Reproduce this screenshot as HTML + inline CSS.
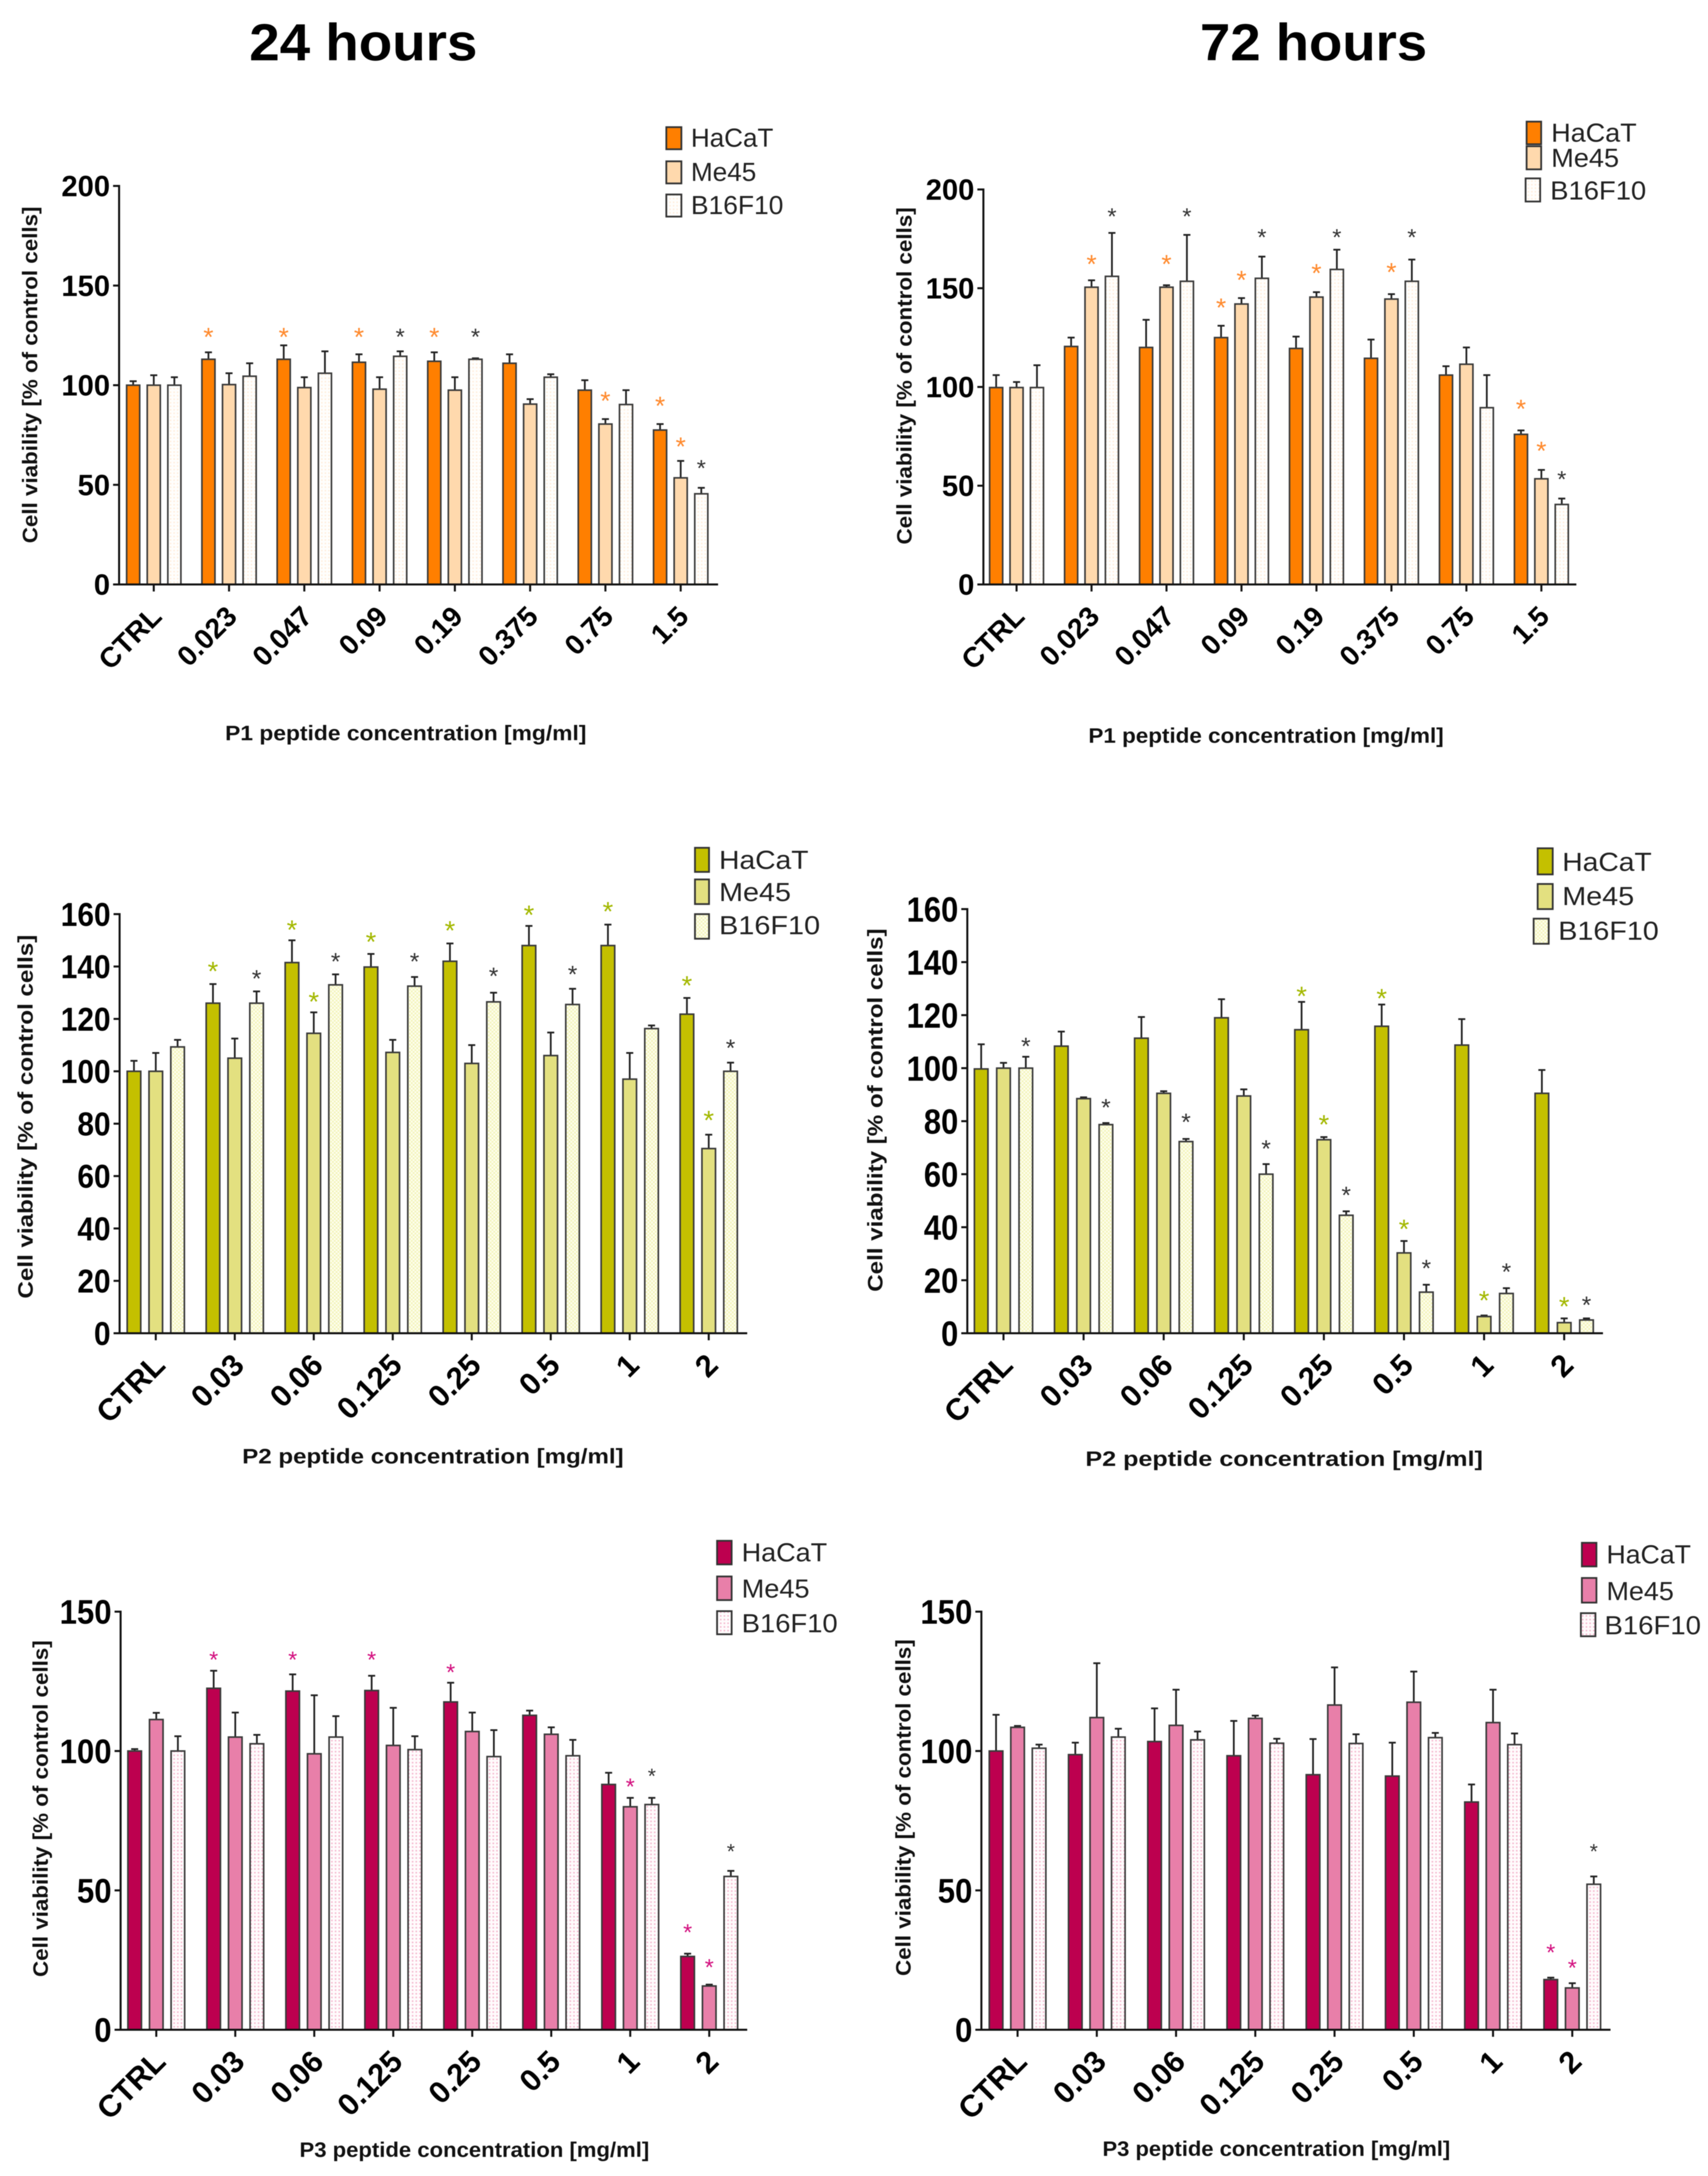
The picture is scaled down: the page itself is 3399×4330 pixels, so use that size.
<!DOCTYPE html>
<html lang="en">
<head>
<meta charset="utf-8">
<title>Cell viability of HaCaT, Me45 and B16F10 after peptide treatment</title>
<style>
  html, body { margin: 0; padding: 0; background: #fff; }
  svg { display: block; font-family: "Liberation Sans", sans-serif; filter: blur(0.7px); }
  .h { font-weight: 700; font-size: 104px; fill: #000; }
  .yt { font-weight: 700; font-size: 42px; fill: #111; }
  .xt { font-weight: 700; font-size: 42px; fill: #111; }
  .lg { font-size: 52px; fill: #222; }
  .sw { stroke: #333; stroke-width: 3.5; }
</style>
</head>
<body>
<svg id="figure" xmlns="http://www.w3.org/2000/svg" width="3399" height="4330" viewBox="0 0 3399 4330">
  <defs>
    <pattern id="dots-orange" patternUnits="userSpaceOnUse" width="7" height="7">
      <rect width="7" height="7" fill="#fffefc"/>
      <rect x="2" y="2" width="3" height="3" fill="#ffeedd"/>
    </pattern>
    <pattern id="dots-olive" patternUnits="userSpaceOnUse" width="7.3" height="7.3">
      <rect width="7.3" height="7.3" fill="#fefef2"/>
      <rect x="0" y="0" width="3.6" height="3.6" fill="#f3f4ba"/>
      <rect x="3.6" y="3.6" width="3.7" height="3.7" fill="#f3f4ba"/>
    </pattern>
    <pattern id="dots-pink" patternUnits="userSpaceOnUse" width="7.3" height="7.3">
      <rect width="7.3" height="7.3" fill="#fffbfc"/>
      <rect x="2" y="2" width="3" height="3" fill="#f4b6cd"/>
    </pattern>
  </defs>

  <rect width="3399" height="4330" fill="#fff"/>

  <text class="h" x="496" y="120" textLength="454" lengthAdjust="spacingAndGlyphs">24 hours</text>
  <text class="h" x="2388" y="120" textLength="452" lengthAdjust="spacingAndGlyphs">72 hours</text>

  <g>
    <text class="yt" transform="translate(74,746) rotate(-90)" text-anchor="middle" textLength="670" lengthAdjust="spacingAndGlyphs">Cell viability [% of control cells]</text>
    <text class="xt" x="448" y="1473" textLength="719" lengthAdjust="spacingAndGlyphs">P1 peptide concentration [mg/ml]</text>
    <g>
      <rect class="sw" x="1326" y="253" width="30" height="44" fill="#ff7f00"/>
      <text class="lg" x="1375" y="292" textLength="164" lengthAdjust="spacingAndGlyphs">HaCaT</text>
      <rect class="sw" x="1326" y="321" width="30" height="44" fill="#ffd9ad"/>
      <text class="lg" x="1375" y="360" textLength="130" lengthAdjust="spacingAndGlyphs">Me45</text>
      <rect class="sw" x="1326" y="387" width="30" height="44" fill="url(#dots-orange)"/>
      <text class="lg" x="1375" y="426" textLength="184" lengthAdjust="spacingAndGlyphs">B16F10</text>
    </g>
  </g>

  <g>
    <text class="yt" transform="translate(1814,748) rotate(-90)" text-anchor="middle" textLength="671" lengthAdjust="spacingAndGlyphs">Cell viability [% of control cells]</text>
    <text class="xt" x="2166" y="1478" textLength="707" lengthAdjust="spacingAndGlyphs">P1 peptide concentration [mg/ml]</text>
    <g>
      <rect class="sw" x="3038" y="242" width="29" height="45" fill="#ff7f00"/>
      <text class="lg" x="3087" y="282" textLength="170" lengthAdjust="spacingAndGlyphs">HaCaT</text>
      <rect class="sw" x="3038" y="291" width="29" height="46" fill="#ffd9ad"/>
      <text class="lg" x="3087" y="332" textLength="135" lengthAdjust="spacingAndGlyphs">Me45</text>
      <rect class="sw" x="3036" y="355" width="29" height="46" fill="url(#dots-orange)"/>
      <text class="lg" x="3085" y="397" textLength="191" lengthAdjust="spacingAndGlyphs">B16F10</text>
    </g>
  </g>

  <g>
    <text class="yt" transform="translate(65,2222) rotate(-90)" text-anchor="middle" textLength="724" lengthAdjust="spacingAndGlyphs">Cell viability [% of control cells]</text>
    <text class="xt" x="482" y="2912" textLength="759" lengthAdjust="spacingAndGlyphs">P2 peptide concentration [mg/ml]</text>
    <g>
      <rect class="sw" x="1383" y="1687" width="28" height="48" fill="#c4c000"/>
      <text class="lg" x="1431" y="1729" textLength="178" lengthAdjust="spacingAndGlyphs">HaCaT</text>
      <rect class="sw" x="1383" y="1750" width="28" height="49" fill="#e3e080"/>
      <text class="lg" x="1431" y="1793" textLength="143" lengthAdjust="spacingAndGlyphs">Me45</text>
      <rect class="sw" x="1383" y="1819" width="28" height="49" fill="url(#dots-olive)"/>
      <text class="lg" x="1431" y="1859" textLength="201" lengthAdjust="spacingAndGlyphs">B16F10</text>
    </g>
  </g>

  <g>
    <text class="yt" transform="translate(1756,2209) rotate(-90)" text-anchor="middle" textLength="723" lengthAdjust="spacingAndGlyphs">Cell viability [% of control cells]</text>
    <text class="xt" x="2160" y="2917" textLength="791" lengthAdjust="spacingAndGlyphs">P2 peptide concentration [mg/ml]</text>
    <g>
      <rect class="sw" x="3060" y="1688" width="30" height="52" fill="#c4c000"/>
      <text class="lg" x="3109" y="1733" textLength="178" lengthAdjust="spacingAndGlyphs">HaCaT</text>
      <rect class="sw" x="3060" y="1759" width="30" height="50" fill="#e3e080"/>
      <text class="lg" x="3109" y="1801" textLength="143" lengthAdjust="spacingAndGlyphs">Me45</text>
      <rect class="sw" x="3052" y="1828" width="30" height="50" fill="url(#dots-olive)"/>
      <text class="lg" x="3101" y="1870" textLength="200" lengthAdjust="spacingAndGlyphs">B16F10</text>
    </g>
  </g>

  <g>
    <text class="yt" transform="translate(95,3599) rotate(-90)" text-anchor="middle" textLength="670" lengthAdjust="spacingAndGlyphs">Cell viability [% of control cells]</text>
    <text class="xt" x="596" y="4292" textLength="696" lengthAdjust="spacingAndGlyphs">P3 peptide concentration [mg/ml]</text>
    <g>
      <rect class="sw" x="1427" y="3066" width="29" height="47" fill="#bd004f"/>
      <text class="lg" x="1476" y="3107" textLength="170" lengthAdjust="spacingAndGlyphs">HaCaT</text>
      <rect class="sw" x="1427" y="3137" width="29" height="47" fill="#e87fa9"/>
      <text class="lg" x="1476" y="3179" textLength="135" lengthAdjust="spacingAndGlyphs">Me45</text>
      <rect class="sw" x="1427" y="3206" width="29" height="46" fill="url(#dots-pink)"/>
      <text class="lg" x="1476" y="3248" textLength="191" lengthAdjust="spacingAndGlyphs">B16F10</text>
    </g>
  </g>

  <g>
    <text class="yt" transform="translate(1812,3597) rotate(-90)" text-anchor="middle" textLength="670" lengthAdjust="spacingAndGlyphs">Cell viability [% of control cells]</text>
    <text class="xt" x="2194" y="4290" textLength="692" lengthAdjust="spacingAndGlyphs">P3 peptide concentration [mg/ml]</text>
    <g>
      <rect class="sw" x="3148" y="3070" width="29" height="47" fill="#bd004f"/>
      <text class="lg" x="3197" y="3111" textLength="168" lengthAdjust="spacingAndGlyphs">HaCaT</text>
      <rect class="sw" x="3148" y="3140" width="29" height="49" fill="#e87fa9"/>
      <text class="lg" x="3197" y="3184" textLength="134" lengthAdjust="spacingAndGlyphs">Me45</text>
      <rect class="sw" x="3146" y="3210" width="29" height="46" fill="url(#dots-pink)"/>
      <text class="lg" x="3193" y="3252" textLength="192" lengthAdjust="spacingAndGlyphs">B16F10</text>
    </g>
  </g>

  <g id="plots"></g>
</svg>

<script>
/* ---------- categories and tick labels ---------- */
const categoriesP1 = ['CTRL', '0.023', '0.047', '0.09', '0.19', '0.375', '0.75', '1.5'];
const categoriesP2 = ['CTRL', '0.03', '0.06', '0.125', '0.25', '0.5', '1', '2'];
const categoriesP3 = ['CTRL', '0.03', '0.06', '0.125', '0.25', '0.5', '1', '2'];
const ticksP1 = [0, 50, 100, 150, 200];
const ticksP2 = [0, 20, 40, 60, 80, 100, 120, 140, 160];
const ticksP3 = [0, 50, 100, 150];
const seriesNames = ['hacat', 'me45', 'b16f10'];

/* ---------- P1, 24 h ---------- */
const p1h24Hacat      = [100, 113, 113, 111.5, 112, 111, 97.5, 77.5];
const p1h24HacatUpper = [102, 116.5, 120, 115.5, 116.5, 115.5, 102.5, 80.5];
const p1h24Me45       = [100, 100.3, 98.8, 98, 97.5, 90.5, 80.5, 53.5];
const p1h24Me45Upper  = [105, 106, 104, 104, 104, 93, 83, 62];
const p1h24B16        = [100, 104.5, 106, 114.5, 113, 104, 90.3, 45.5];
const p1h24B16Upper   = [104, 111, 117, 117, 113.5, 105.5, 97.5, 48.5];
const p1h24Stars = [[1,0,127],[2,0,127],[3,0,127],[3,2,126],[4,0,127],[4,2,126],[6,1,95],[7,0,92.5],[7,1,72],[7,2,60]];

/* ---------- P1, 72 h ---------- */
const p1h72Hacat      = [99.7, 120.5, 120, 125, 119.5, 114.5, 106, 76];
const p1h72HacatUpper = [106, 125, 134, 131, 125.5, 124, 110.5, 78];
const p1h72Me45       = [99.7, 150.5, 150.5, 142, 145.5, 144.5, 111.5, 53.5];
const p1h72Me45Upper  = [102.5, 154, 151.5, 145, 148, 147, 120, 58];
const p1h72B16        = [99.7, 156, 153.5, 155, 159.5, 153.5, 89.5, 40.5];
const p1h72B16Upper   = [111, 178, 177, 166, 169.5, 164.5, 106, 43.5];
const p1h72Stars = [[1,1,165],[1,2,188],[2,1,165],[2,2,188],[3,0,143],[3,1,157],[3,2,177.5],[4,1,160.5],[4,2,177.5],[5,1,161],[5,2,177.5],[7,0,91.7],[7,1,70.5],[7,2,55]];

/* ---------- P2, 24 h ---------- */
const p2h24Hacat      = [100, 126, 141.5, 139.8, 142, 148, 148, 121.8];
const p2h24HacatUpper = [104, 133.3, 150, 144.8, 148.8, 155.5, 156, 128];
const p2h24Me45       = [100, 105, 114.5, 107.2, 103, 106, 97, 70.5];
const p2h24Me45Upper  = [107, 112.5, 122.5, 112, 110, 114.8, 107, 75.8];
const p2h24B16        = [109.3, 126, 133, 132.5, 126.5, 125.5, 116.3, 100];
const p2h24B16Upper   = [112, 130.5, 137, 136, 130, 131.5, 117.5, 103.3];
const p2h24Stars = [[1,0,140.5],[1,2,136.8],[2,0,156.3],[2,1,128.9],[2,2,143.3],[3,0,151.7],[3,2,143.3],[4,0,156],[4,2,137.7],[5,0,162],[5,2,138.4],[6,0,163.3],[7,0,135],[7,1,83.6],[7,2,110.3]];

/* ---------- P2, 72 h ---------- */
const p2h72Hacat      = [99.7, 108.3, 111.3, 119, 114.5, 115.8, 108.7, 90.5];
const p2h72HacatUpper = [109, 113.8, 119.3, 126, 125, 124, 118.5, 99.3];
const p2h72Me45       = [100, 88.5, 90.5, 89.5, 73, 30.3, 6.3, 4];
const p2h72Me45Upper  = [102, 89, 91.3, 92, 74, 34.8, 6.7, 5.6];
const p2h72B16        = [100, 78.7, 72.3, 60, 44.5, 15.5, 15, 5];
const p2h72B16Upper   = [104.3, 79.3, 73.3, 63.8, 46, 18.3, 17, 5.6];
const p2h72Stars = [[0,2,109.6],[1,2,86.5],[2,2,81],[3,2,71],[4,0,129.4],[4,1,81],[4,2,53.4],[5,0,128.6],[5,1,41.6],[5,2,25.8],[6,1,14.6],[6,2,24.5],[7,1,12.4],[7,2,12]];

/* ---------- P3, 24 h ---------- */
const p3h24Hacat      = [100, 122.5, 121.5, 121.7, 117.6, 112.8, 88, 26.3];
const p3h24HacatUpper = [100.7, 128.8, 127.5, 127, 124.5, 114.5, 92.2, 27.3];
const p3h24Me45       = [111.3, 105, 99, 102, 107, 106, 80, 15.7];
const p3h24Me45Upper  = [113.7, 113.8, 120, 115.5, 113.8, 108.5, 83.2, 16.2];
const p3h24B16        = [100, 102.6, 105, 100.5, 98, 98.3, 80.8, 55];
const p3h24B16Upper   = [105.3, 105.8, 112.5, 105.3, 107.5, 104, 83.2, 57];
const p3h24Stars = [[1,0,134.5],[2,0,134.5],[3,0,134.5],[4,0,130],[6,1,89],[6,2,92],[7,0,36.7],[7,1,24.2],[7,2,65]];

/* ---------- P3, 72 h ---------- */
const p3h72Hacat      = [100, 98.7, 103.4, 98.3, 91.5, 91, 81.7, 18];
const p3h72HacatUpper = [113, 103, 115.3, 110.8, 104.3, 103, 88, 18.7];
const p3h72Me45       = [108.5, 112, 109.2, 111.7, 116.5, 117.5, 110.2, 15];
const p3h72Me45Upper  = [109, 131.5, 122, 112.7, 130, 128.5, 122, 16.7];
const p3h72B16        = [101, 105, 104, 102.8, 102.7, 104.8, 102.3, 52.2];
const p3h72B16Upper   = [102.3, 108, 107, 104.4, 106, 106.5, 106.3, 55];
const p3h72Stars = [[7,0,29.5],[7,1,24],[7,2,65]];

/* ---------- panel geometry and styling ---------- */
const orangeStyle = { fills: ['#ff7f00', '#ffd9ad', 'url(#dots-orange)'], star: '#ff8a2e' };
const oliveStyle  = { fills: ['#c4c000', '#e3e080', 'url(#dots-olive)'],  star: '#a3b800' };
const pinkStyle   = { fills: ['#bd004f', '#e87fa9', 'url(#dots-pink)'],   star: '#d3107f' };

const panels = [
  { id: 'p1-24h', left: 237, right: 1429, yTop: 370, y0: 1163, yMax: 200, first: 306, step: 149.8, off: 41, barW: 26, xTick: 14,
    tickSize: 58, tickSx: 1.0, labelSize: 56, labelDx: 19, starSize: 52, style: orangeStyle, cats: categoriesP1, ticks: ticksP1,
    series: [[p1h24Hacat, p1h24HacatUpper], [p1h24Me45, p1h24Me45Upper], [p1h24B16, p1h24B16Upper]], stars: p1h24Stars },
  { id: 'p1-72h', left: 1957, right: 3137, yTop: 377, y0: 1163, yMax: 200, first: 2023, step: 149.2, off: 40.6, barW: 26, xTick: 14,
    tickSize: 58, tickSx: 1.0, labelSize: 56, labelDx: 19, starSize: 52, style: orangeStyle, cats: categoriesP1, ticks: ticksP1,
    series: [[p1h72Hacat, p1h72HacatUpper], [p1h72Me45, p1h72Me45Upper], [p1h72B16, p1h72B16Upper]], stars: p1h72Stars },
  { id: 'p2-24h', left: 238, right: 1487, yTop: 1819, y0: 2653, yMax: 160, first: 310, step: 157.2, off: 43.4, barW: 27, xTick: 14,
    tickSize: 66, tickSx: 0.9, labelSize: 61, labelDx: 22, starSize: 54, style: oliveStyle, cats: categoriesP2, ticks: ticksP2,
    series: [[p2h24Hacat, p2h24HacatUpper], [p2h24Me45, p2h24Me45Upper], [p2h24B16, p2h24B16Upper]], stars: p2h24Stars },
  { id: 'p2-72h', left: 1925, right: 3190, yTop: 1809, y0: 2653, yMax: 160, first: 1997, step: 159.4, off: 44.4, barW: 27, xTick: 14,
    tickSize: 70, tickSx: 0.88, labelSize: 61, labelDx: 22, starSize: 54, style: oliveStyle, cats: categoriesP2, ticks: ticksP2,
    series: [[p2h72Hacat, p2h72HacatUpper], [p2h72Me45, p2h72Me45Upper], [p2h72B16, p2h72B16Upper]], stars: p2h72Stars },
  { id: 'p3-24h', left: 240, right: 1487, yTop: 3207, y0: 4039, yMax: 150, first: 311, step: 157.2, off: 43, barW: 27, xTick: 14,
    tickSize: 68, tickSx: 0.91, labelSize: 61, labelDx: 22, starSize: 46, style: pinkStyle, cats: categoriesP3, ticks: ticksP3,
    series: [[p3h24Hacat, p3h24HacatUpper], [p3h24Me45, p3h24Me45Upper], [p3h24B16, p3h24B16Upper]], stars: p3h24Stars },
  { id: 'p3-72h', left: 1953, right: 3205, yTop: 3207, y0: 4039, yMax: 150, first: 2025, step: 157.7, off: 42.8, barW: 27, xTick: 14,
    tickSize: 68, tickSx: 0.91, labelSize: 61, labelDx: 22, starSize: 46, style: pinkStyle, cats: categoriesP3, ticks: ticksP3,
    series: [[p3h72Hacat, p3h72HacatUpper], [p3h72Me45, p3h72Me45Upper], [p3h72B16, p3h72B16Upper]], stars: p3h72Stars }
];

/* ---------- rendering ---------- */
const NS = 'http://www.w3.org/2000/svg';
function make(tag, attrs, parent) {
  const node = document.createElementNS(NS, tag);
  for (const key in attrs) node.setAttribute(key, attrs[key]);
  parent.appendChild(node);
  return node;
}

function renderPanel(cfg, root) {
  const yScale = v => cfg.y0 - (v / cfg.yMax) * (cfg.y0 - cfg.yTop);
  const xCenter = i => cfg.first + i * cfg.step;
  const seriesX = (i, s) => xCenter(i) + (s - 1) * cfg.off;

  const panel = make('g', {}, root);
  
  

  /* bars with error bars */
  cfg.series.forEach((pair, s) => {
    const values = pair[0];
    const uppers = pair[1];
    values.forEach((v, i) => {
      const cx = seriesX(i, s);
      const stem = make('line', { x1: cx, x2: cx, y1: yScale(v), y2: yScale(uppers[i]), stroke: '#222', 'stroke-width': 3.5 }, panel);
      
      
      const cap = make('line', { x1: cx - 7, x2: cx + 7, y1: yScale(uppers[i]), y2: yScale(uppers[i]), stroke: '#222', 'stroke-width': 3.5 }, panel);
      
      
      const bar = make('rect', {
        x: cx - cfg.barW / 2, y: yScale(v), width: cfg.barW, height: cfg.y0 - yScale(v),
        fill: cfg.style.fills[s], stroke: '#3a3a3a', 'stroke-width': 3.2
      }, panel);
      
      
    });
  });

  /* y axis */
  const yAxis = make('line', { x1: cfg.left, x2: cfg.left, y1: cfg.yTop - 2, y2: cfg.y0 + 2, stroke: '#111', 'stroke-width': 4 }, panel);
  
  
  cfg.ticks.forEach(t => {
    const tick = make('line', { x1: cfg.left - 12, x2: cfg.left, y1: yScale(t), y2: yScale(t), stroke: '#111', 'stroke-width': 4 }, panel);
    
    
    const label = make('text', {
      transform: 'translate(' + (cfg.left - 18) + ',' + (yScale(t) + cfg.tickSize * 0.355) + ') scale(' + cfg.tickSx + ',1)',
      'text-anchor': 'end', 'font-size': cfg.tickSize, 'font-weight': 700, fill: '#000'
    }, panel);
    label.textContent = String(t);
    
    
  });

  /* x axis */
  const xAxis = make('line', { x1: cfg.left - 12, x2: cfg.right, y1: cfg.y0, y2: cfg.y0, stroke: '#111', 'stroke-width': 4 }, panel);
  
  
  cfg.cats.forEach((c, i) => {
    const tick = make('line', { x1: xCenter(i), x2: xCenter(i), y1: cfg.y0, y2: cfg.y0 + cfg.xTick, stroke: '#111', 'stroke-width': 4 }, panel);
    
    
    const label = make('text', {
      transform: 'translate(' + (xCenter(i) + cfg.labelDx) + ',' + (cfg.y0 + 67) + ') rotate(-45)',
      'text-anchor': 'end', 'font-size': cfg.labelSize, 'font-weight': 700, fill: '#000'
    }, panel);
    label.textContent = c;
    
    
  });

  /* significance stars: [category index, series index, level in axis units] */
  cfg.stars.forEach(st => {
    const black = st[1] === 2;
    const size = black ? cfg.starSize * 0.9 : cfg.starSize;
    const star = make('text', {
      x: seriesX(st[0], st[1]), y: yScale(st[2]) + size * (black ? 0.48 : 0.56),
      'text-anchor': 'middle', 'font-size': size, fill: black ? '#333' : cfg.style.star
    }, panel);
    star.textContent = '*';
    
    
  });
}

const plotsRoot = document.getElementById('plots');
panels.forEach(cfg => renderPanel(cfg, plotsRoot));
</script>
</body>
</html>
